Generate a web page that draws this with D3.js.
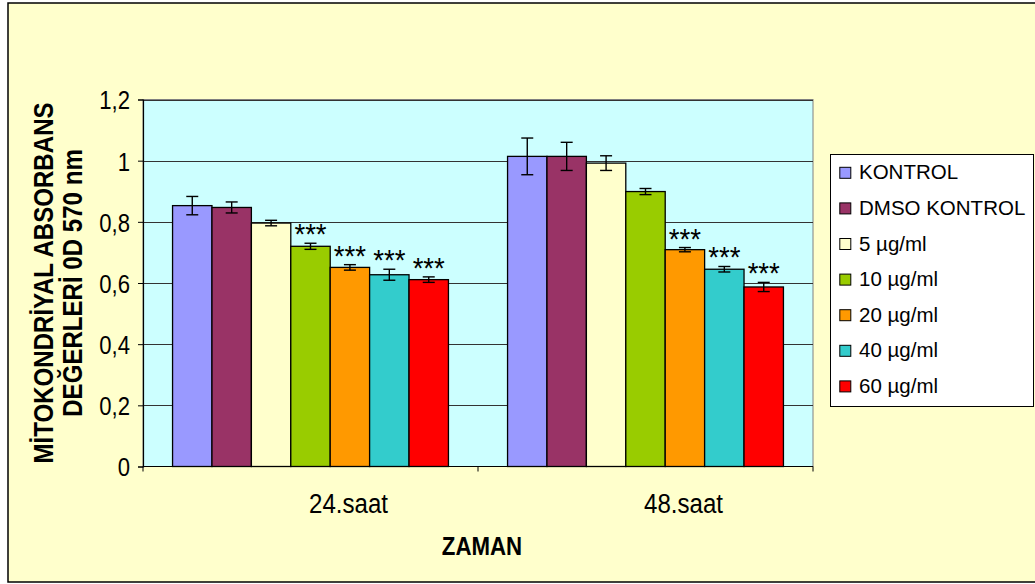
<!DOCTYPE html>
<html>
<head>
<meta charset="utf-8">
<script src="https://cdn.jsdelivr.net/npm/d3@7"></script>
<style>
  html, body { margin: 0; padding: 0; background: #ffffff; }
  svg { display: block; font-family: Arial, "Liberation Sans", sans-serif; }
</style>
</head>
<body>
<svg id="chart" width="1035" height="584"></svg>
<script>
// Time points (x categories)
const categories = ["24.saat", "48.saat"];
// Treatment groups (series)
const series = ["KONTROL", "DMSO KONTROL", "5 µg/ml", "10 µg/ml", "20 µg/ml", "40 µg/ml", "60 µg/ml"];
const seriesColors = ["#9999FF", "#993366", "#FFFFCC", "#99CC00", "#FF9900", "#33CCCC", "#FF0000"];

// Mean absorbance and error per group, 24 h
const values24 = [0.853, 0.847, 0.796, 0.720, 0.651, 0.627, 0.611];
const errors24 = [0.030, 0.018, 0.009, 0.010, 0.009, 0.018, 0.009];
const signif24 = ["", "", "", "***", "***", "***", "***"];

// Mean absorbance and error per group, 48 h
const values48 = [1.014, 1.014, 0.992, 0.899, 0.709, 0.645, 0.587];
const errors48 = [0.060, 0.046, 0.024, 0.010, 0.007, 0.009, 0.015];
const signif48 = ["", "", "", "", "***", "***", "***"];

// Y axis ticks
const yTickValues = [0, 0.2, 0.4, 0.6, 0.8, 1.0, 1.2];
const yTickLabels = ["0", "0,2", "0,4", "0,6", "0,8", "1", "1,2"];

const yTitleLines = ["MİTOKONDRİYAL ABSORBANS", "DEĞERLERİ 0D 570 nm"];
const xTitle = "ZAMAN";

const table = categories.map((c, ci) => ({
  category: c,
  bars: series.map((s, si) => ({
    series: s,
    color: seriesColors[si],
    value: ci === 0 ? values24[si] : values48[si],
    error: ci === 0 ? errors24[si] : errors48[si],
    sig: ci === 0 ? signif24[si] : signif48[si]
  }))
}));

const svg = d3.select("#chart");

// chart area
svg.append("rect")
  .attr("x", 8).attr("y", 3).attr("width", 1040).attr("height", 579)
  .attr("fill", "#FFFFCC").attr("stroke", "#000").attr("stroke-width", 1.5);

const plot = { left: 143, right: 813, top: 99.5, bottom: 466.5 };

const x0 = d3.scaleBand().domain(categories).range([plot.left, plot.right]).paddingInner(0).paddingOuter(0);
const barW = x0.bandwidth() / (series.length + 1.5);
const x1 = d3.scaleBand().domain(series)
  .range([barW * 0.75, x0.bandwidth() - barW * 0.75]).paddingInner(0).paddingOuter(0);
const y = d3.scaleLinear().domain([0, 1.2]).range([plot.bottom, plot.top]);

// plot area
svg.append("rect")
  .attr("x", plot.left).attr("y", plot.top)
  .attr("width", plot.right - plot.left).attr("height", plot.bottom - plot.top)
  .attr("fill", "#CCFFFF").attr("stroke", "#808080").attr("stroke-width", 1);

// gridlines
svg.append("g").selectAll("line")
  .data(yTickValues.filter(v => v > 0))
  .join("line")
  .attr("x1", plot.left).attr("x2", plot.right)
  .attr("y1", d => Math.round(y(d)) + 0.5).attr("y2", d => Math.round(y(d)) + 0.5)
  .attr("stroke", "#333").attr("stroke-width", 1);

// bars
const groups = svg.append("g").selectAll("g")
  .data(table).join("g")
  .attr("transform", d => `translate(${x0(d.category)},0)`);

groups.selectAll("rect")
  .data(d => d.bars).join("rect")
  .attr("x", d => x1(d.series))
  .attr("y", d => y(d.value))
  .attr("width", x1.bandwidth())
  .attr("height", d => y(0) - y(d.value))
  .attr("fill", d => d.color)
  .attr("stroke", "#000").attr("stroke-width", 1.3);

// error bars
const capW = 12;
const err = groups.selectAll("g.err")
  .data(d => d.bars).join("g").attr("class", "err")
  .attr("stroke", "#000").attr("stroke-width", 1.4);
err.append("line")
  .attr("x1", d => x1(d.series) + x1.bandwidth() / 2)
  .attr("x2", d => x1(d.series) + x1.bandwidth() / 2)
  .attr("y1", d => y(d.value + d.error)).attr("y2", d => y(d.value - d.error));
err.append("line")
  .attr("x1", d => x1(d.series) + x1.bandwidth() / 2 - capW / 2)
  .attr("x2", d => x1(d.series) + x1.bandwidth() / 2 + capW / 2)
  .attr("y1", d => y(d.value + d.error)).attr("y2", d => y(d.value + d.error));
err.append("line")
  .attr("x1", d => x1(d.series) + x1.bandwidth() / 2 - capW / 2)
  .attr("x2", d => x1(d.series) + x1.bandwidth() / 2 + capW / 2)
  .attr("y1", d => y(d.value - d.error)).attr("y2", d => y(d.value - d.error));

// significance markers
groups.selectAll("text.sig")
  .data(d => d.bars.filter(b => b.sig)).join("text").attr("class", "sig")
  .attr("transform", d => `translate(${x1(d.series) + x1.bandwidth() / 2},${y(d.value + d.error) + 1}) scale(0.92,1)`)
  .attr("text-anchor", "middle")
  .attr("font-size", 30)
  .attr("fill", "#000")
  .text(d => d.sig);

// y axis
const yAxis = svg.append("g")
  .attr("transform", `translate(${plot.left},0)`)
  .call(d3.axisLeft(y).tickValues(yTickValues)
    .tickFormat((d, i) => yTickLabels[i]).tickSize(5).tickPadding(0));
yAxis.select(".domain").attr("stroke", "#000").attr("stroke-width", 1.2);
yAxis.selectAll(".tick line").attr("stroke", "#000");
yAxis.selectAll(".tick text")
  .attr("x", -13 / 0.85).attr("dy", "0.36em")
  .attr("transform", "scale(0.85,1)")
  .attr("font-size", 26).attr("font-family", "Arial, 'Liberation Sans', sans-serif")
  .attr("fill", "#000");

// x axis
const xAxis = svg.append("g")
  .attr("transform", `translate(0,${plot.bottom})`);
xAxis.append("line")
  .attr("x1", plot.left).attr("x2", plot.right).attr("y1", 0).attr("y2", 0)
  .attr("stroke", "#000").attr("stroke-width", 1.2);
const xTickPos = [plot.left].concat(categories.map(c => x0(c) + x0.bandwidth()));
xAxis.selectAll("line.tick")
  .data(xTickPos).join("line").attr("class", "tick")
  .attr("x1", d => d).attr("x2", d => d).attr("y1", 0).attr("y2", 5)
  .attr("stroke", "#000");
xAxis.selectAll("text")
  .data(categories).join("text")
  .attr("transform", d => `translate(${x0(d) + x0.bandwidth() / 2 + 38},${513 - plot.bottom}) scale(0.86,1)`)
  .attr("text-anchor", "middle")
  .attr("font-size", 28).attr("fill", "#000")
  .text(d => d);

// axis titles
svg.append("text")
  .attr("transform", `translate(${(plot.left + plot.right) / 2 + 4},555) scale(0.89,1)`)
  .attr("text-anchor", "middle")
  .attr("font-size", 25).attr("font-weight", "bold").attr("fill", "#000")
  .text(xTitle);

const yMid = (plot.top + plot.bottom) / 2;
svg.selectAll("text.ytitle")
  .data(yTitleLines).join("text").attr("class", "ytitle")
  .attr("transform", (d, i) => `translate(${53 + i * 29},${yMid}) rotate(-90) scale(0.86,1)`)
  .attr("text-anchor", "middle")
  .attr("font-size", 28).attr("font-weight", "bold").attr("fill", "#000")
  .text(d => d);

// legend
const legend = svg.append("g");
legend.append("rect")
  .attr("x", 830.5).attr("y", 154.5).attr("width", 203).attr("height", 252)
  .attr("fill", "#fff").attr("stroke", "#000").attr("stroke-width", 1);
const items = legend.selectAll("g.item")
  .data(series).join("g").attr("class", "item")
  .attr("transform", (d, i) => `translate(0,${172.3 + i * 35.6})`);
items.append("rect")
  .attr("x", 839.8).attr("y", -5).attr("width", 11).attr("height", 11)
  .attr("fill", (d, i) => seriesColors[i]).attr("stroke", "#000").attr("stroke-width", 1);
items.append("text")
  .attr("x", 859).attr("y", 7)
  .attr("font-size", 20.5).attr("fill", "#000")
  .text(d => d);
</script>
</body>
</html>
